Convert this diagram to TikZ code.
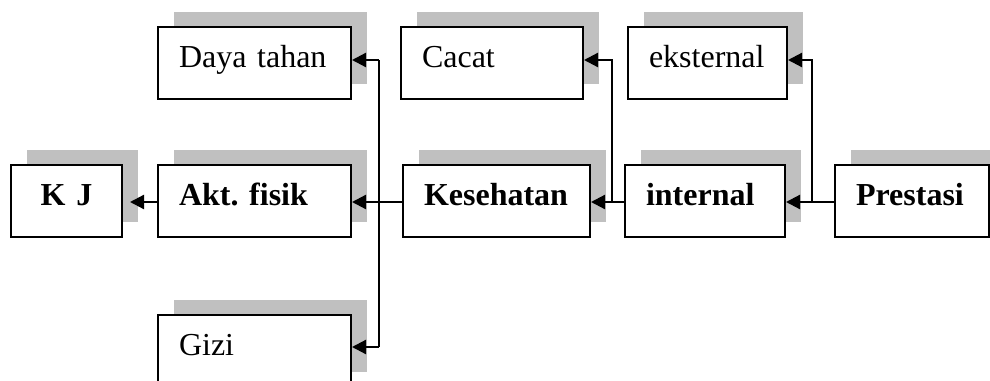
\documentclass[tikz,border=0pt]{standalone}
\usepackage{fontspec}
\setmainfont{Liberation Serif}
\usetikzlibrary{arrows.meta,shadows}
\definecolor{shadegray}{RGB}{192,192,192}
\hyphenpenalty=10000
\exhyphenpenalty=10000
\frenchspacing
\tikzset{
  box/.style={draw, line width=2pt, fill=white, anchor=north west,
    minimum height=72pt, inner xsep=21pt, inner ysep=0pt,
    align=left, text height=22pt, text depth=13pt,
    font=\fontsize{32pt}{38pt}\selectfont,
    drop shadow={shadow xshift=16pt, shadow yshift=15pt, fill=shadegray, opacity=1}},
  wire/.style={line width=2.2pt},
  arr/.style={wire, -{Triangle[length=14pt, width=14pt]}}
}
\begin{document}
\begin{tikzpicture}[x=1pt, y=-1pt]
\useasboundingbox (0,0) rectangle (990,380);

% middle row
\node[box, text width=69pt, align=center] (kj)  at (10,164)  {\bfseries K J};
\node[box, text width=151pt] (akt) at (157,164) {\bfseries Akt. fisik};
\node[box, text width=145pt] (kes) at (402,164) {\bfseries Kesehatan};
\node[box, text width=118pt] (int) at (624,164) {\bfseries internal};
\node[box, text width=112pt] (pre) at (834,164) {\bfseries Prestasi};

% upper row
\node[box, text width=151pt] (daya) at (157,26) {Daya tahan};
\node[box, text width=140pt] (cacat) at (400,26) {Cacat};
\node[box, text width=117pt] (eks) at (627,26) {eksternal};

% lower row
\node[box, text width=151pt] (gizi) at (157,314) {Gizi};

% rows and vertical buses of the connectors
\coordinate (rowT) at (0,60);
\coordinate (rowM) at (0,202);
\coordinate (rowB) at (0,347);
\coordinate (busA) at (379,0);
\coordinate (busB) at (612,0);
\coordinate (busC) at (812,0);

% Kesehatan branches
\draw[arr] (kes.west |- rowM) -- (akt.east |- rowM);
\draw[wire] (busA |- rowT) -- (busA |- rowB);
\draw[arr] (busA |- rowT) -- (daya.east |- rowT);
\draw[arr] (busA |- rowB) -- (gizi.east |- rowB);

% Akt. fisik to K J
\draw[arr, shorten >=7pt] (akt.west |- rowM) -- (kj.east |- rowM);

% internal branches
\draw[arr] (int.west |- rowM) -- (kes.east |- rowM);
\draw[arr] (busB |- rowM) |- (cacat.east |- rowT);

% Prestasi branches
\draw[arr] (pre.west |- rowM) -- (int.east |- rowM);
\draw[arr] (busC |- rowM) |- (eks.east |- rowT);
\end{tikzpicture}
\end{document}
